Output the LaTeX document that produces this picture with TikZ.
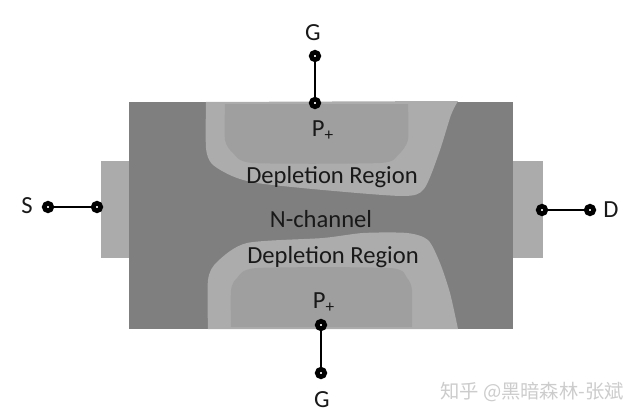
\documentclass[tikz,border=0pt]{standalone}
\usepackage{fontspec}
\setmainfont{Carlito}
\newfontfamily\cjkmark{Noto Sans CJK SC}
\usepackage{tikz}
\usetikzlibrary{positioning}
\definecolor{bodygray}{HTML}{7F7F7F}
\definecolor{contactgray}{HTML}{ABABAB}
\definecolor{depletiongray}{HTML}{ACACAC}
\definecolor{gategray}{HTML}{9F9F9F}
\tikzset{
terminal/.style={circle, draw=black, fill=white, line width=2.7pt, inner sep=0pt, minimum size=4.2pt}, % sets the properties for each end point
wire/.style={line width=1.7pt, black}, % sets the properties for the leads
devtext/.style={font=\fontsize{14}{16}\selectfont, text=black!90, inner sep=0pt}, % sets the text inside the device
}

\begin{document}
\begin{tikzpicture}[x=0.02cm, y=-0.02cm]
    \useasboundingbox (0,0) rectangle (640,419);
    % Channel body and contacts
    \fill[contactgray] (101,161) rectangle (129,258);
    \fill[contactgray] (513,161) rectangle (543,258);
    \fill[bodygray] (129,102) rectangle (513,329);

    % Upper gate
    \fill[depletiongray] plot[smooth, tension=0.45] coordinates {(206,102) (206,148) (212,164) (232,176) (257,183) (323,190) (403,196) (424,189) (439,153) (451,115) (458,101)} -- cycle;
    \fill[gategray] plot[smooth, tension=0.4] coordinates {(225,104) (225,140) (233,153) (253,163) (380,163) (398,155) (408,140) (408,104)} -- cycle;

    % Lower gate
    \fill[depletiongray] plot[smooth, tension=0.45] coordinates {(208,329) (208,280) (217,262) (247,243) (323,238) (363,233) (407,233) (428,240) (440,263) (450,293) (458,329)} -- cycle;
    \fill[gategray] plot[smooth, tension=0.4] coordinates {(231,327) (231,290) (237,278) (257,268) (390,268) (407,278) (412,290) (412,327)} -- cycle;

    \node[devtext] (top depletion) at (332,177) {Depletion Region};
    \node[devtext] (channel) at (321,219) {N-channel};
    \node[devtext] (bottom depletion) at (333,257) {Depletion Region};
    \node[devtext] (top gate) at (323,131) {P\textsubscript{+}};
    \node[devtext] (bottom gate) at (324,303) {P\textsubscript{+}};

    % Leads
    \node[terminal] (g1 out) at (315,56) {};
    \node[terminal] (g1 in) at (315,103) {};
    \node[terminal] (g2 in) at (321,325) {};
    \node[terminal] (g2 out) at (321,373) {};
    \node[terminal] (s out) at (48,207) {};
    \node[terminal] (s in) at (97,207) {};
    \node[terminal] (d in) at (542,210) {};
    \node[terminal] (d out) at (590,210) {};
    \draw[wire]
    (g1 out) edge (g1 in)
    (g2 in) edge (g2 out)
    (s out) edge (s in)
    (d in) edge (d out);

    \node[devtext] (g1) at (313,33) {G};
    \node[devtext] (g2) at (322,400) {G};
    \node[devtext] (s) at (27,206) {S};
    \node[devtext] (d) at (611,210) {D};

    % Watermark
    \node[font=\cjkmark\fontsize{11}{13}\selectfont, text=black!20, inner sep=0pt] (mark) at (532,392) {知乎 @黑暗森林-张斌};
\end{tikzpicture}
\end{document}
